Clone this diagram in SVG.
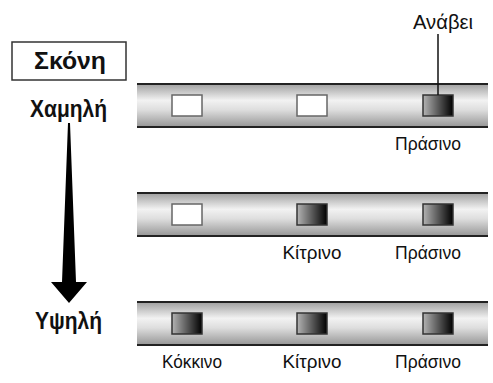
<svg xmlns="http://www.w3.org/2000/svg" width="493" height="383" viewBox="0 0 493 383">
<defs>
<linearGradient id="bar" x1="0" y1="0" x2="0" y2="1">
<stop offset="0" stop-color="#a0a0a0"/>
<stop offset="0.38" stop-color="#f2f2f2"/>
<stop offset="0.6" stop-color="#dedede"/>
<stop offset="1" stop-color="#969696"/>
</linearGradient>
<linearGradient id="lit" x1="0" y1="0" x2="1" y2="0">
<stop offset="0" stop-color="#b4b4b4"/>
<stop offset="1" stop-color="#000"/>
</linearGradient>
<style>
.t{font-family:"Liberation Sans",Arial,sans-serif;font-size:19px;fill:#111;text-anchor:middle}
.b{font-family:"Liberation Sans",Arial,sans-serif;font-size:23px;font-weight:bold;fill:#111;text-anchor:middle}
.bar{fill:url(#bar)}
.edge{stroke:#222;stroke-width:2}
.off{fill:#fff;stroke:#666;stroke-width:1.5}
.on{fill:url(#lit);stroke:#333;stroke-width:1.5}
</style>
</defs>
<g id="scene">
<rect x="12" y="42" width="114" height="38" fill="#fff" stroke="#333" stroke-width="1.5"/>
<text class="b" x="70" y="69" textLength="72" lengthAdjust="spacingAndGlyphs">Σκόνη</text>
</g>
<g id="low"><text class="b" x="68.5" y="117" textLength="77" lengthAdjust="spacingAndGlyphs">Χαμηλή</text></g>
<g id="high"><text class="b" x="68.5" y="329" textLength="67" lengthAdjust="spacingAndGlyphs">Υψηλή</text></g>
<g id="arrow">
<polygon points="68,123 70,123 76,282 87,282 69,303 51,282 62,282" fill="#000"/>
</g>
<g id="bar1">
<rect class="bar" x="137" y="84" width="351" height="43"/>
<line class="edge" x1="137" y1="84" x2="488" y2="84"/>
<line class="edge" x1="137" y1="127" x2="488" y2="127"/>
<rect class="off" x="172" y="95" width="30" height="21"/>
<rect class="off" x="297" y="95" width="30" height="21"/>
<rect class="on" x="423" y="95" width="30" height="21"/>
<text class="t" x="428" y="150" textLength="66" lengthAdjust="spacingAndGlyphs">Πράσινο</text>
</g>
<g id="bar2">
<rect class="bar" x="137" y="193" width="351" height="43"/>
<line class="edge" x1="137" y1="193" x2="488" y2="193"/>
<line class="edge" x1="137" y1="236" x2="488" y2="236"/>
<rect class="off" x="172" y="204" width="30" height="21"/>
<rect class="on" x="297" y="204" width="30" height="21"/>
<rect class="on" x="423" y="204" width="30" height="21"/>
<text class="t" x="312" y="259" textLength="59" lengthAdjust="spacingAndGlyphs">Κίτρινο</text>
<text class="t" x="428" y="259" textLength="66" lengthAdjust="spacingAndGlyphs">Πράσινο</text>
</g>
<g id="bar3">
<rect class="bar" x="137" y="302" width="351" height="43"/>
<line class="edge" x1="137" y1="302" x2="488" y2="302"/>
<line class="edge" x1="137" y1="345" x2="488" y2="345"/>
<rect class="on" x="172" y="313" width="30" height="21"/>
<rect class="on" x="297" y="313" width="30" height="21"/>
<rect class="on" x="423" y="313" width="30" height="21"/>
<text class="t" x="192" y="368" textLength="60" lengthAdjust="spacingAndGlyphs">Κόκκινο</text>
<text class="t" x="312" y="368" textLength="59" lengthAdjust="spacingAndGlyphs">Κίτρινο</text>
<text class="t" x="428" y="368" textLength="66" lengthAdjust="spacingAndGlyphs">Πράσινο</text>
</g>
<g id="lights-label">
<text class="t" x="443" y="29" style="font-size:20px" textLength="60" lengthAdjust="spacingAndGlyphs">Ανάβει</text>
</g>
<g id="connectors">
<line x1="438" y1="34" x2="438" y2="95" stroke="#111" stroke-width="1.5"/>
</g>
</svg>
